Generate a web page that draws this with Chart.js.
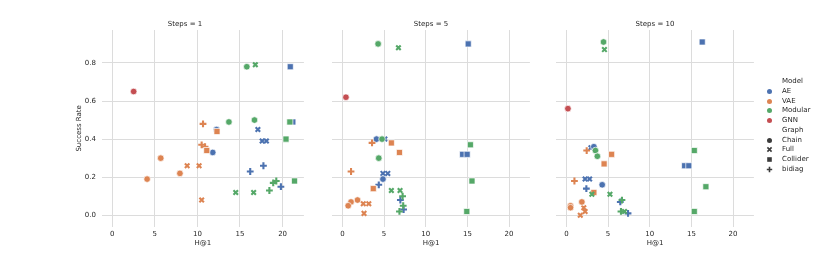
<!DOCTYPE html>
<html>
<head>
<meta charset="utf-8">
<script src="https://cdn.jsdelivr.net/npm/chart.js@4"></script>
<style>
  body { margin: 0; background: #fff; width: 817px; height: 255px; overflow: hidden; position: relative; font-family: "DejaVu Sans", sans-serif; }
  canvas { position: absolute; top: 0; }
  #legend { position: absolute; left: 0; top: 0; width: 817px; height: 255px; font-size: 7px; color: #262626; will-change: transform; }
  .lg { position: absolute; left: 782px; white-space: nowrap; line-height: 9px; color: #262626; }
  .mk { position: absolute; left: 765px; width: 9px; height: 9px; }
</style>
</head>
<body>
<canvas id="c1" width="250" height="255" style="left:60px"></canvas>
<canvas id="c2" width="210" height="255" style="left:326px"></canvas>
<canvas id="c3" width="210" height="255" style="left:550px"></canvas>
<div id="legend"></div>
<script>
// --- DATA ---
const panelTitles = ["Steps = 1", "Steps = 5", "Steps = 10"];
const models = ["AE", "VAE", "Modular", "GNN"];
const graphs = ["Chain", "Full", "Collider", "bidiag"];
const xTicks = [0, 5, 10, 15, 20];
const yTicks = [0.0, 0.2, 0.4, 0.6, 0.8];

// [H@1, success rate, graph]
const steps1AE = [[12.25,0.45,"Chain"],[11.8,0.33,"Chain"],[20.9,0.78,"Collider"],[21.2,0.49,"Collider"],
  [17.1,0.45,"Full"],[17.6,0.39,"Full"],[18.1,0.39,"Full"],[17.75,0.26,"bidiag"],[16.2,0.23,"bidiag"],[19.8,0.15,"bidiag"]];
const steps1VAE = [[5.7,0.30,"Chain"],[7.95,0.22,"Chain"],[4.1,0.19,"Chain"],[12.3,0.44,"Collider"],[11.1,0.34,"Collider"],
  [8.8,0.26,"Full"],[10.2,0.26,"Full"],[10.5,0.08,"Full"],[10.66,0.48,"bidiag"],[10.5,0.37,"bidiag"],[10.9,0.36,"bidiag"]];
const steps1Modular = [[15.8,0.78,"Chain"],[13.7,0.49,"Chain"],[16.7,0.50,"Chain"],[20.85,0.49,"Collider"],[20.4,0.40,"Collider"],
  [21.4,0.18,"Collider"],[16.8,0.79,"Full"],[14.5,0.12,"Full"],[16.6,0.12,"Full"],[19.26,0.18,"bidiag"],[18.9,0.17,"bidiag"],[18.45,0.13,"bidiag"]];
const steps1GNN = [[2.52,0.65,"Chain"]];

const steps5AE = [[4.1,0.40,"Chain"],[4.87,0.19,"Chain"],[15.1,0.90,"Collider"],[14.43,0.32,"Collider"],[14.97,0.32,"Collider"],
  [5.1,0.40,"Full"],[4.87,0.22,"Full"],[5.45,0.22,"Full"],[4.37,0.16,"bidiag"],[6.96,0.08,"bidiag"],[7.35,0.03,"bidiag"]];
const steps5VAE = [[1.82,0.08,"Chain"],[1.04,0.07,"Chain"],[0.7,0.05,"Chain"],[5.88,0.38,"Collider"],[6.85,0.33,"Collider"],
  [3.71,0.14,"Collider"],[2.51,0.06,"Full"],[3.17,0.06,"Full"],[2.6,0.01,"Full"],[3.56,0.38,"bidiag"],[1.04,0.23,"bidiag"]];
const steps5Modular = [[4.29,0.90,"Chain"],[4.76,0.40,"Chain"],[4.37,0.30,"Chain"],[15.36,0.37,"Collider"],[15.55,0.18,"Collider"],
  [14.93,0.02,"Collider"],[6.73,0.88,"Full"],[5.88,0.13,"Full"],[6.92,0.13,"Full"],[7.23,0.10,"bidiag"],[7.3,0.05,"bidiag"],[6.85,0.02,"bidiag"]];
const steps5GNN = [[0.43,0.62,"Chain"]];

const steps10AE = [[3.3,0.36,"Chain"],[4.3,0.16,"Chain"],[16.3,0.91,"Collider"],[14.19,0.26,"Collider"],[14.69,0.26,"Collider"],
  [2.95,0.355,"Full"],[2.25,0.19,"Full"],[2.79,0.19,"Full"],[2.4,0.14,"bidiag"],[6.47,0.07,"bidiag"],[7.4,0.01,"bidiag"]];
const steps10VAE = [[1.86,0.07,"Chain"],[0.5,0.05,"Chain"],[0.5,0.04,"Chain"],[5.43,0.32,"Collider"],[4.53,0.27,"Collider"],
  [3.3,0.12,"Collider"],[2.09,0.04,"Full"],[2.25,0.02,"Full"],[1.67,0.00,"Full"],[2.44,0.34,"bidiag"],[0.97,0.18,"bidiag"]];
const steps10Modular = [[4.46,0.91,"Chain"],[3.49,0.34,"Chain"],[3.72,0.31,"Chain"],[15.35,0.34,"Collider"],[16.74,0.15,"Collider"],
  [15.35,0.02,"Collider"],[4.57,0.87,"Full"],[3.06,0.11,"Full"],[5.23,0.11,"Full"],[6.67,0.08,"bidiag"],[6.55,0.02,"bidiag"],[6.98,0.02,"Full"]];
const steps10GNN = [[0.19,0.56,"Chain"]];

const panels = [
  [steps1AE, steps1VAE, steps1Modular, steps1GNN],
  [steps5AE, steps5VAE, steps5Modular, steps5GNN],
  [steps10AE, steps10VAE, steps10Modular, steps10GNN]
];

// --- STYLE ---
const modelColors = { AE: "#4C72B0", VAE: "#DD8452", Modular: "#55A868", GNN: "#C44E52" };
const graphStyles = { Chain: "circle", Full: "crossRot", Collider: "rect", bidiag: "cross" };
const graphRadius = { Chain: 3.3, Full: 3.2, Collider: 4.3, bidiag: 3.4 };
const textColor = "#262626";
const gridColor = "#dcdcdc";
const font = { family: "DejaVu Sans", size: 7, weight: "normal" };

function buildDatasets(series) {
  const sets = [];
  series.forEach((pts, mi) => {
    const model = models[mi];
    graphs.forEach(g => {
      const data = pts.filter(p => p[2] === g).map(p => ({ x: p[0], y: p[1] }));
      if (!data.length) return;
      const stroked = g === "Full" || g === "bidiag";
      sets.push({
        label: model + " " + g,
        data,
        order: models.length - mi, // later models drawn on top
        pointStyle: graphStyles[g],
        pointRadius: graphRadius[g],
        backgroundColor: modelColors[model],
        borderColor: stroked ? modelColors[model] : "#ffffff",
        borderWidth: stroked ? 2.1 : 0.7
      });
    });
  });
  return sets;
}

function makeChart(id, idx) {
  const first = idx === 0;
  return new Chart(document.getElementById(id), {
    type: "scatter",
    data: { datasets: buildDatasets(panels[idx]) },
    options: {
      responsive: false,
      animation: false,
      events: [],
      layout: { padding: 0 },
      plugins: {
        legend: { display: false },
        tooltip: { enabled: false },
        title: { display: true, text: panelTitles[idx], color: textColor, font, padding: { top: 20, bottom: 1.6 } }
      },
      scales: {
        x: {
          min: -1.23, max: 22.5,
          afterBuildTicks: s => { s.ticks = xTicks.map(v => ({ value: v })); },
          afterFit: s => { s.height = 28.3; },
          ticks: { color: textColor, font, padding: 3.5 },
          grid: { color: gridColor, lineWidth: 1, drawTicks: false },
          border: { display: false },
          title: { display: true, text: "H@1", color: textColor, font, padding: { top: 0, bottom: 7.5 } }
        },
        y: {
          min: -0.06, max: 0.973,
          afterBuildTicks: s => { s.ticks = yTicks.map(v => ({ value: v })); },
          afterFit: s => { s.width = first ? 41.7 : 0; },
          ticks: { display: first, color: textColor, font, padding: 5.7, callback: v => v.toFixed(1) },
          grid: { color: gridColor, lineWidth: 1, drawTicks: false },
          border: { display: false },
          title: { display: first, text: "Success Rate", color: textColor, font, padding: { top: 14.8, bottom: 0 } }
        }
      }
    }
  });
}

makeChart("c1", 0);
makeChart("c2", 1);
makeChart("c3", 2);

// --- LEGEND ---
function markerSvg(shape, color) {
  let inner = "";
  if (shape === "circle") inner = `<circle cx="4.5" cy="4.5" r="2.5" fill="${color}"/>`;
  if (shape === "rect") inner = `<rect x="2.2" y="2.2" width="4.6" height="4.6" fill="${color}"/>`;
  if (shape === "crossRot") inner = `<path d="M2.4 2.4 L6.6 6.6 M6.6 2.4 L2.4 6.6" stroke="${color}" stroke-width="1.6"/>`;
  if (shape === "cross") inner = `<path d="M4.5 1.8 V7.2 M1.8 4.5 H7.2" stroke="${color}" stroke-width="1.6"/>`;
  return `<svg width="9" height="9">${inner}</svg>`;
}

const legendEl = document.getElementById("legend");
let rows = [];
rows.push({ text: "Model" });
models.forEach(m => rows.push({ text: m, marker: markerSvg("circle", modelColors[m]) }));
rows.push({ text: "Graph" });
graphs.forEach(g => rows.push({ text: g, marker: markerSvg(graphStyles[g], "#3b3b3b") }));

legendEl.innerHTML = rows.map((r, i) => {
  const top = 77.2 + i * 9.75;
  return `<div class="lg" style="top:${top}px">${r.text}</div>` +
    (r.marker ? `<div class="mk" style="top:${top}px">${r.marker}</div>` : "");
}).join("");
</script>
</body>
</html>
